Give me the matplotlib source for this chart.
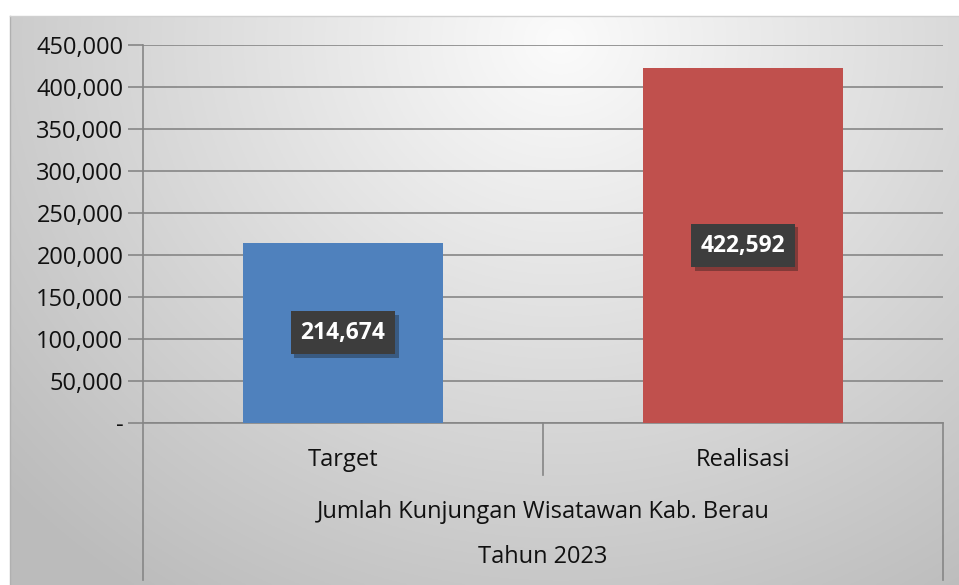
import matplotlib.pyplot as plt
import matplotlib.patheffects as pe
import numpy as np

categories = ["Target", "Realisasi"]
values = [214674, 422592]
group_label = "Jumlah Kunjungan Wisatawan Kab. Berau"
year_label = "Tahun 2023"
bar_colors = ["#4F81BD", "#C0504D"]
yticks = [0, 50000, 100000, 150000, 200000, 250000, 300000, 350000, 400000, 450000]
ytick_labels = ["-"] + [f"{v:,}" for v in yticks[1:]]

plt.rcParams["font.family"] = ["Open Sans", "DejaVu Sans"]

W, H = 959, 585
fig = plt.figure(figsize=(W / 100, H / 100), dpi=100)
fig.patch.set_facecolor("white")

# radial gray background of the chart area
bg = fig.add_axes([10 / W, 0, (W - 10) / W, (H - 16) / H], zorder=0)
yy, xx = np.mgrid[0:300, 0:500]
gx = xx / 500 * (W - 10) + 10
gy = yy / 300 * (H - 16) + 16
r = np.sqrt(((gx - 560) / 620) ** 2 + ((gy - 40) / 560) ** 2)
shade = 0.985 - 0.25 * np.clip(r, 0, 1.2) / 1.2
bg.imshow(np.dstack([shade] * 3), aspect="auto", extent=[0, 1, 0, 1], origin="upper")
bg.set_axis_off()
fig.add_artist(plt.Line2D([10 / W, 10 / W], [0, (H - 16) / H], color="#b0b0b0", lw=1))
fig.add_artist(plt.Line2D([10 / W, 1], [(H - 16) / H] * 2, color="#d0d0d0", lw=1))

x0, x1, ytop, ybot = 143, 943, 45, 423
ax = fig.add_axes([x0 / W, (H - ybot) / H, (x1 - x0) / W, (ybot - ytop) / H], zorder=1)
ax.patch.set_alpha(0)

x = np.arange(len(categories))
bars = ax.bar(x, values, width=0.5, color=bar_colors, zorder=3)
for b in bars:
    b.set_path_effects([pe.SimplePatchShadow(offset=(0, 0), shadow_rgbFace="#909090", alpha=0.25, rho=1), pe.Normal()])

ax.set_xlim(-0.5, len(categories) - 0.5)
ax.set_ylim(0, 450000)
ax.set_yticks(yticks)
ax.set_yticklabels(ytick_labels, fontsize=17, color="#111111")
ax.set_xticks([])
ax.grid(axis="y", color="#868686", lw=1.2, zorder=1)
ax.tick_params(axis="y", length=11, width=1.2, color="#868686", pad=3)
for s in ["top", "right"]:
    ax.spines[s].set_visible(False)
ax.spines["left"].set_color("#868686")
ax.spines["bottom"].set_color("#868686")
ax.spines["left"].set_linewidth(1.2)
ax.spines["bottom"].set_linewidth(1.2)

for xi, v in zip(x, values):
    ax.text(xi, v / 2, f"{v:,}", ha="center", va="center", fontsize=16.5, fontweight="bold",
            color="white", zorder=5,
            bbox=dict(boxstyle="square,pad=0.42", fc="#3d3d3d", ec="none",
                      path_effects=[pe.SimplePatchShadow(offset=(2.5, -2.5), alpha=0.35), pe.Normal()]))

# multi-level category axis drawn below the plot
def ay(py):
    return (ybot - py) / (ybot - ytop)

lk = dict(color="#868686", lw=1.2, transform=ax.transAxes, clip_on=False, zorder=2)
ax.plot([0, 0], [ay(ybot), ay(580)], **lk)
ax.plot([1, 1], [ay(ybot), ay(580)], **lk)
ax.plot([0.5, 0.5], [ay(ybot), ay(475)], **lk)
for xi, c in zip(x, categories):
    ax.text((xi + 0.5) / len(categories), ay(460), c, ha="center", va="center", fontsize=17,
            color="#111111", transform=ax.transAxes)
ax.text(0.5, ay(512), group_label, ha="center", va="center", fontsize=17, color="#111111",
        transform=ax.transAxes)
ax.text(0.5, ay(557), year_label, ha="center", va="center", fontsize=17, color="#111111",
        transform=ax.transAxes)

fig.savefig("out.png", dpi=100)
